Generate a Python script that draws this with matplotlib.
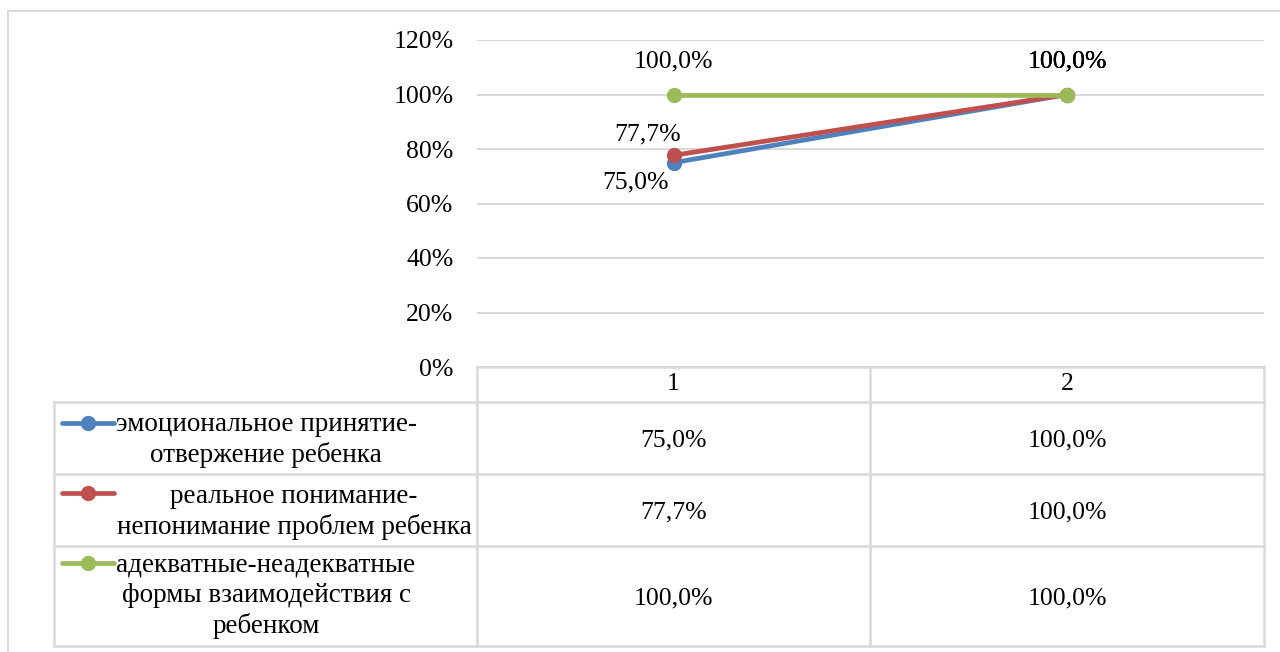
import matplotlib
matplotlib.use("Agg")
import matplotlib.pyplot as plt
from matplotlib.lines import Line2D

plt.rcParams['font.family'] = ['Liberation Serif', 'DejaVu Serif']

categories = ["1", "2"]
series_names = [
    "эмоциональное принятие-\nотвержение ребенка",
    "реальное понимание-\nнепонимание проблем ребенка",
    "адекватные-неадекватные\nформы взаимодействия с\nребенком",
]
series_values = [
    [0.750, 1.000],
    [0.777, 1.000],
    [1.000, 1.000],
]
yticks = [0.0, 0.2, 0.4, 0.6, 0.8, 1.0, 1.2]
colors = ["#4F81BD", "#C0504D", "#9BBB59"]

W, H = 1280, 652
fig = plt.figure(figsize=(W / 100, H / 100), dpi=100)

def fx(x):
    return x / W

def fy(y):
    return 1 - y / H

FS = 18.5

# plot area in pixels
L, R, T, B = 477, 1264, 40, 367
ax = fig.add_axes([fx(L), fy(B), fx(R) - fx(L), fy(T) - fy(B)])
ax.set_xlim(0.5, len(categories) + 0.5)
ax.set_ylim(0, 1.2)
ax.set_yticks(yticks)
ax.set_yticklabels([f"{int(round(v*100))}%" for v in yticks], fontsize=FS)
ax.set_xticks([])
ax.tick_params(axis='y', length=0, pad=17)
for s in ax.spines.values():
    s.set_visible(False)
ax.grid(axis='y', color="#D9D9D9", linewidth=1.4)
ax.set_axisbelow(True)

xs = list(range(1, len(categories) + 1))
for vals, c in zip(series_values, colors):
    ax.plot(xs, vals, color=c, linewidth=3.4, marker='o', markersize=10,
            solid_capstyle='round', zorder=3, clip_on=False)

def fmt(v):
    return f"{v*100:.1f}%".replace(".", ",")

# data labels (offsets in pixels)
label_offsets = [
    [(-38, -20), (0, 33)],   # blue
    [(-26, 21), (0, 33)],    # red
    [(0, 33), (0, 33)],      # green
]
for vals, offs in zip(series_values, label_offsets):
    for x, v, (dx, dy) in zip(xs, vals, offs):
        ax.annotate(fmt(v), (x, v), xytext=(dx * 0.72, dy * 0.72),
                    textcoords='offset points', ha='center', va='center',
                    fontsize=FS, color="black", zorder=4)

# outer chart border (top and left visible)
gc = "#D9D9D9"
fig.add_artist(Line2D([fx(8), fx(1290)], [fy(11), fy(11)], color=gc, lw=1.5))
fig.add_artist(Line2D([fx(8), fx(8)], [fy(11), fy(660)], color=gc, lw=1.5))

# data table
TL = 54
col_x = [L, 870, R]
row_y = [B, 402, 474, 546, 646]
lw = 1.8
fig.add_artist(Line2D([fx(L), fx(R)], [fy(row_y[0]), fy(row_y[0])], color=gc, lw=lw))
for y in row_y[1:]:
    fig.add_artist(Line2D([fx(TL), fx(R)], [fy(y), fy(y)], color=gc, lw=lw))
for x in col_x:
    fig.add_artist(Line2D([fx(x), fx(x)], [fy(row_y[0]), fy(row_y[-1])], color=gc, lw=lw))
fig.add_artist(Line2D([fx(TL), fx(TL)], [fy(row_y[1]), fy(row_y[-1])], color=gc, lw=lw))

# header
for i, cat in enumerate(categories):
    cx = (col_x[i] + col_x[i + 1]) / 2
    fig.text(fx(cx), fy((row_y[0] + row_y[1]) / 2), cat, ha='center', va='center', fontsize=FS)

# rows
key_y = [423, 493, 563]
name_cx = [266, 294, 266]
name_dy = [2, 2, 0]
for r, (name, vals, c) in enumerate(zip(series_names, series_values, colors)):
    y0, y1 = row_y[r + 1], row_y[r + 2]
    cy = (y0 + y1) / 2
    fig.add_artist(Line2D([fx(62), fx(114)], [fy(key_y[r]), fy(key_y[r])], color=c,
                          lw=3.4, solid_capstyle='round'))
    fig.add_artist(Line2D([fx(88)], [fy(key_y[r])], color=c, marker='o', markersize=10, lw=0))
    fig.text(fx(name_cx[r]), fy(cy + name_dy[r]), name, ha='center', va='center', fontsize=19.5,
             multialignment='center', linespacing=1.28)
    for i, v in enumerate(vals):
        cx = (col_x[i] + col_x[i + 1]) / 2
        fig.text(fx(cx), fy(cy + 2), fmt(v), ha='center', va='center', fontsize=FS)

fig.savefig("out.png", dpi=100)
